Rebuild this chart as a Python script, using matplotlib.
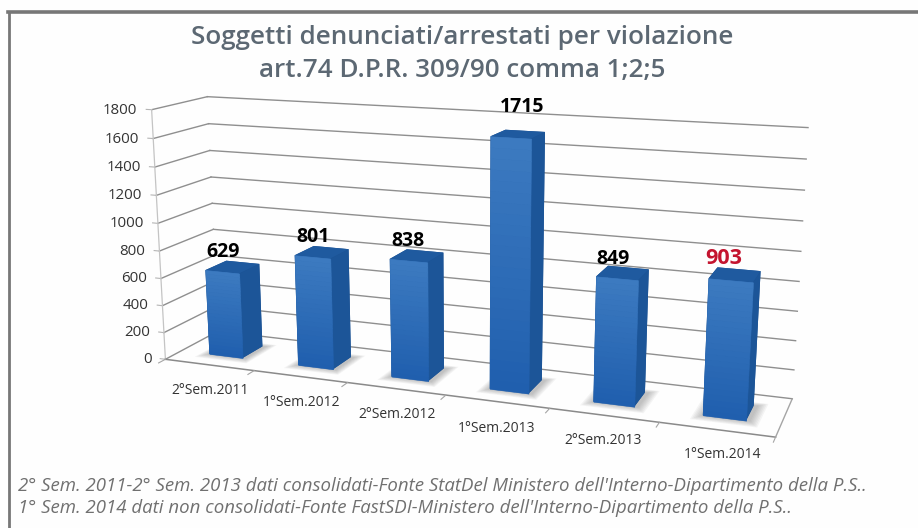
import numpy as np
import matplotlib
matplotlib.use('Agg')
import matplotlib.pyplot as plt
from matplotlib.colors import to_rgb
from mpl_toolkits.mplot3d import proj3d
from mpl_toolkits.mplot3d.art3d import Poly3DCollection

plt.rcParams['font.family'] = ['Open Sans', 'DejaVu Sans']

W, H = 918, 528

semesters = ['2°Sem.2011', '1°Sem.2012', '2°Sem.2012', '1°Sem.2013', '2°Sem.2013', '1°Sem.2014']
counts = [629, 801, 838, 1715, 849, 903]
count_colors = ['black', 'black', 'black', 'black', 'black', '#c4142f']
count_sizes = [14, 14, 14, 14, 14, 15.5]
yticks = list(range(0, 2000, 200))
title_lines = ['Soggetti denunciati/arrestati per violazione', 'art.74 D.P.R. 309/90 comma 1;2;5']
notes = ["2° Sem. 2011-2° Sem. 2013 dati consolidati-Fonte StatDel Ministero dell'Interno-Dipartimento della P.S..",
         "1° Sem. 2014 dati non consolidati-Fonte FastSDI-Ministero dell'Interno-Dipartimento della P.S.."]

# where the hand placed labels sit, in pixels
count_pos = [(223, 252), (313, 237), (408, 241), (522, 107), (613, 259), (724, 259)]
cat_pos = [(210, 391), (302, 403), (397, 415), (497, 428), (603, 441), (723, 455)]

BAR_W = 0.38
BAR_D = 0.4


def px_text(x, y, s, **kw):
    return fig.text(x / W, 1 - y / H, s, ha=kw.pop('ha', 'center'), va=kw.pop('va', 'center'), **kw)


def mix(a, b, t):
    a, b = np.array(to_rgb(a)), np.array(to_rgb(b))
    return tuple(a + (b - a) * t)


def line3d(xs, ys, zs, **kw):
    ax.plot(xs, ys, zs, clip_on=False, **kw)


fig = plt.figure(figsize=(W / 100, H / 100), dpi=100, facecolor='#fefefe')

# camera values calibrated for this box
side = 684.3
ax = fig.add_axes([113.83 / W, -74.59 / H, side / W, side / H], projection='3d')
ax.computed_zorder = False
ax.view_init(13.778, -69.30, 0.066)
ax.set_proj_type('persp', focal_length=0.3749)
ax.set_box_aspect((1, 0.1694, 0.4160))
ax.set_xlim(-0.5, 5.5, view_margin=0)
ax.set_ylim(0, 1, view_margin=0)
ax.set_zlim(0, 1800, view_margin=0)
ax.set_axis_off()
ax.patch.set_visible(False)

GRID = '#8f8f8f'
M = ax.get_proj()
# walls
for z in yticks:
    line3d([-0.5, -0.5], [0, 1], [z, z], color=GRID, lw=1.0, zorder=1)
    line3d([-0.5, 5.5], [1, 1], [z, z], color=GRID, lw=1.0, zorder=1)
    line3d([-0.56, -0.5], [0, 0], [z, z], color='#b5b5b5', lw=0.8, zorder=1)
    u, v, _ = proj3d.proj_transform(-0.66, 0, z, M)
    ax.text2D(u, v - 0.0004, str(z), transform=ax.transData, ha='right', va='center',
              fontsize=10.8, color='#333333', zorder=20)
line3d([-0.5, -0.5], [0, 0], [0, 1800], color='#c4c4c4', lw=0.9, zorder=1)

# floor edges and category ticks
line3d([-0.5, 5.5], [0, 0], [0, 0], color='#8a8a8a', lw=1.1, zorder=1)
line3d([5.5, 5.5], [0, 1], [0, 0], color='#a5a5a5', lw=1.0, zorder=1)
for i in range(len(counts) + 1):
    line3d([i - 0.5, i - 0.5], [0, -0.12], [0, 0], color='#a5a5a5', lw=0.8, zorder=1)

for i, v in enumerate(counts):
    x0, x1 = i + 0.01 - BAR_W / 2, i + 0.01 + BAR_W / 2
    y0, y1 = 0.5 - BAR_D / 2, 0.5 + BAR_D / 2

    # soft shadow on the floor
    for k in range(7):
        g = 0.01 + k * 0.013
        quad = [[(x0 - g, y0 - g * 1.5, 0), (x1 + 0.03 + g, y0 - g * 1.5, 0),
                 (x1 + 0.03 + g, y1 + g, 0), (x0 - g, y1 + g, 0)]]
        ax.add_collection3d(Poly3DCollection(quad, facecolors='#555555', edgecolors='none',
                                             alpha=0.06, zorder=2))

    ax.bar3d(x0, y0, 0, BAR_W, BAR_D, v, shade=False, zorder=3 + i * 0.1,
             color=['#1b4f8f', '#1f5a9f', '#2a68b0', '#1b4f8f', '#1b4f8f', '#1c5598'])

    # front face, lighter towards the top
    n = 24
    for k in range(n):
        t = k / (n - 1)
        z0, z1 = v * k / n, v * (k + 1) / n
        col = mix('#205fae', '#3c7ac0', t)
        quad = [[(x0, y0, z0), (x1, y0, z0), (x1, y0, z1), (x0, y0, z1)]]
        ax.add_collection3d(Poly3DCollection(quad, facecolors=[col], edgecolors=[col], linewidths=0.4,
                                             zorder=4 + i * 0.1))

    px_text(count_pos[i][0], count_pos[i][1], str(v), fontsize=count_sizes[i], fontweight='bold',
            color=count_colors[i])
    px_text(cat_pos[i][0], cat_pos[i][1], semesters[i], fontsize=10, color='#333333')

ax.set_xlim(-0.5, 5.5, view_margin=0)
ax.set_ylim(0, 1, view_margin=0)
ax.set_zlim(0, 1800, view_margin=0)

# frame lines, top and left only
fig.add_artist(plt.Line2D([8 / W, 1], [1 - 12 / H, 1 - 12 / H], color='#777777', lw=2.6))
fig.add_artist(plt.Line2D([9 / W, 9 / W], [0, 1 - 12 / H], color='#777777', lw=2.0))

px_text(462, 38, title_lines[0], fontsize=18.7, fontweight='semibold', color='#5c6873')
px_text(462, 70, title_lines[1], fontsize=18.7, fontweight='semibold', color='#5c6873')

px_text(18, 486, notes[0], ha='left', fontsize=13.4, style='italic', color='#707070')
px_text(18, 508, notes[1], ha='left', fontsize=13.4, style='italic', color='#707070')

fig.savefig('out.png', dpi=100, facecolor=fig.get_facecolor())
